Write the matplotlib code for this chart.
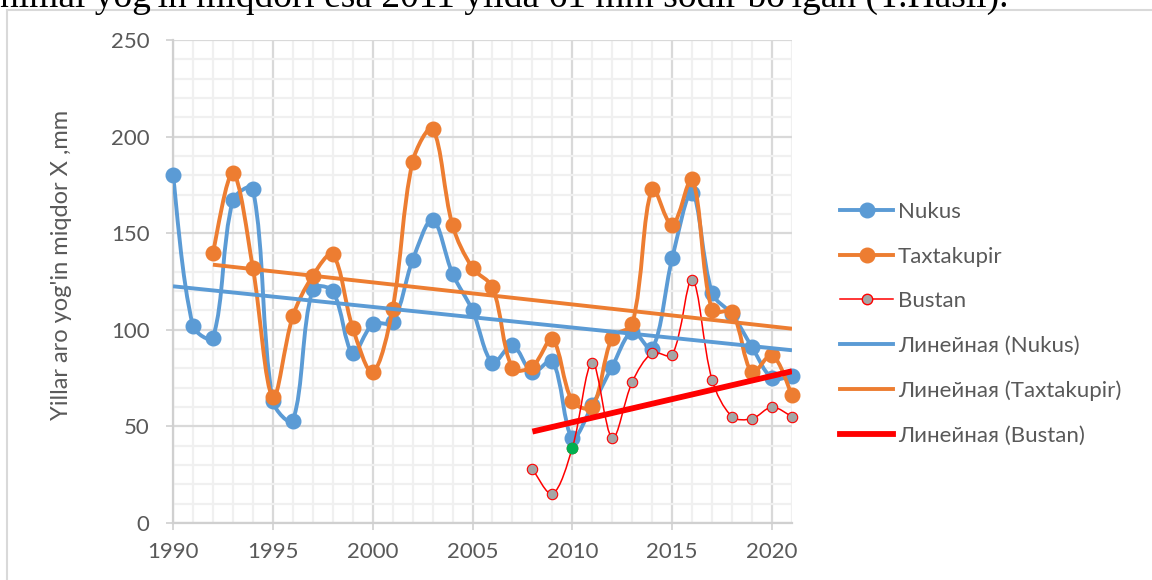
import numpy as np
import matplotlib.pyplot as plt
from matplotlib.path import Path
from matplotlib.patches import PathPatch, Rectangle
from matplotlib.lines import Line2D

years_nukus = np.arange(1990, 2022)
nukus = [180, 102, 96, 167, 173, 63, 53, 121, 120, 88, 103, 104, 136, 157, 129, 110,
         83, 92, 78, 84, 44, 61, 81, 99, 90, 137, 171, 119, 108, 91, 75, 76]
years_taxt = np.arange(1992, 2022)
taxtakupir = [140, 181, 132, 65, 107, 128, 139, 101, 78, 111, 187, 204, 154, 132,
              122, 80, 81, 95, 63, 60, 96, 103, 173, 154, 178, 110, 109, 78, 87, 66]
years_bustan = np.arange(2008, 2022)
bustan = [28, 15, 39, 83, 44, 73, 88, 87, 126, 74, 55, 54, 60, 55]

c_blue = '#5B9BD5'
c_orange = '#ED7D31'
c_red = '#FF0000'
c_text = '#595959'

plt.rcParams['font.family'] = ['Lato', 'DejaVu Sans']

# pixel scale of the axes, used only to make the curve smoothing look like excel's
SX = (792 - 173) / 31.0
SY = (523 - 40) / 250.0


def smooth_path(x, y):
    # smoothed line: cubic bezier, tangent scaled by neighbouring segment lengths
    x = np.asarray(x, float)
    y = np.asarray(y, float)
    n = len(x)
    d = np.hypot(np.diff(x) * SX, np.diff(y) * SY)
    tang = []
    for i in range(n):
        i0 = max(i - 1, 0)
        i1 = min(i + 1, n - 1)
        tang.append((x[i1] - x[i0], y[i1] - y[i0]))
    verts = [(x[0], y[0])]
    codes = [Path.MOVETO]
    for i in range(n - 1):
        f1 = d[i] / (d[i - 1] + d[i]) / 3 if i > 0 else 1 / 6
        f2 = d[i] / (d[i] + d[i + 1]) / 3 if i + 1 < n - 1 else 1 / 6
        c1 = (x[i] + tang[i][0] * f1, y[i] + tang[i][1] * f1)
        c2 = (x[i + 1] - tang[i + 1][0] * f2, y[i + 1] - tang[i + 1][1] * f2)
        verts += [c1, c2, (x[i + 1], y[i + 1])]
        codes += [Path.CURVE4] * 3
    return Path(verts, codes)


fig = plt.figure(figsize=(11.52, 5.80), dpi=100)

# caption fragment from the document page above the chart
fig.text(0.0, 1 - 7 / 580, "nimal yog'in miqdori esa 2011 yilda 61 mm sodir bo'lgan (T.Hasil).",
         fontsize=27, family='Liberation Serif', ha='left', va='baseline', color='black')
fig.patches.append(Rectangle((7 / 1152, -0.1), 1.2, 1 - 10 / 580 + 0.1, transform=fig.transFigure,
                             facecolor='white', edgecolor='#D9D9D9', lw=1.5, zorder=-1))

ax = fig.add_axes([173 / 1152, 1 - 523 / 580, (792 - 173) / 1152, (523 - 40) / 580])
ax.set_xlim(1990, 2021)
ax.set_ylim(0, 250)
ax.set_xticks(np.arange(1990, 2021, 5))
ax.set_xticks(np.arange(1990, 2022, 1), minor=True)
ax.set_yticks(np.arange(0, 251, 50))
ax.set_yticks(np.arange(0, 251, 10), minor=True)
ax.grid(which='major', color='#D9D9D9', lw=1.6)
ax.grid(which='minor', color='#F0F0F0', lw=1.6)
ax.set_axisbelow(True)
for s in ['top', 'right']:
    ax.spines[s].set_visible(False)
for s in ['left', 'bottom']:
    ax.spines[s].set_color('#D0D0D0')
    ax.spines[s].set_linewidth(1.6)
ax.tick_params(which='major', length=5, width=1.2, color='#D0D0D0', labelcolor=c_text,
               labelsize=16)
ax.tick_params(axis='x', pad=9)
ax.tick_params(axis='y', pad=12)
ax.tick_params(which='minor', length=0)
ax.set_ylabel("Yillar aro yog'in miqdor X ,mm", fontsize=17, color=c_text)
ax.yaxis.label.set_verticalalignment('center')
ax.yaxis.set_label_coords((62 - 173) / 619, 1 - (265 - 40) / 483)

# series (smoothed lines + markers)
ax.add_patch(PathPatch(smooth_path(years_nukus, nukus), fill=False, edgecolor=c_blue, lw=2.8, zorder=3))
ax.plot(years_nukus, nukus, 'o', color=c_blue, ms=10.5, zorder=4, clip_on=False)
ax.add_patch(PathPatch(smooth_path(years_taxt, taxtakupir), fill=False, edgecolor=c_orange, lw=2.8, zorder=5))
ax.plot(years_taxt, taxtakupir, 'o', color=c_orange, ms=10.5, zorder=6, clip_on=False)
ax.add_patch(PathPatch(smooth_path(years_bustan, bustan), fill=False, edgecolor=c_red, lw=1.1, zorder=7))
ax.plot(years_bustan, bustan, 'o', mfc='#A5A5A5', mec=c_red, mew=0.8, ms=7.5, zorder=8, clip_on=False)
ax.plot(years_bustan[2], bustan[2], 'o', mfc='#00B050', mec='#00B050', ms=7.5, zorder=9)

# linear trendlines
for xs, ys, col, lw in [(years_nukus, nukus, c_blue, 2.8),
                        (years_taxt, taxtakupir, c_orange, 2.8),
                        (years_bustan, bustan, c_red, 4.2)]:
    k, b = np.polyfit(xs, ys, 1)
    ax.plot([xs[0], xs[-1]], [k * xs[0] + b, k * xs[-1] + b], color=col, lw=lw, zorder=10,
            solid_capstyle='butt')

handles = [
    Line2D([], [], color=c_blue, lw=2.8, marker='o', ms=10.5),
    Line2D([], [], color=c_orange, lw=2.8, marker='o', ms=10.5),
    Line2D([], [], color=c_red, lw=1.1, marker='o', ms=7.5, mfc='#A5A5A5', mec=c_red),
    Line2D([], [], color=c_blue, lw=2.8),
    Line2D([], [], color=c_orange, lw=2.8),
    Line2D([], [], color=c_red, lw=4.2),
]
labels = ['Nukus', 'Taxtakupir', 'Bustan', 'Линейная (Nukus)',
          'Линейная (Taxtakupir)', 'Линейная (Bustan)']
leg = fig.legend(handles, labels, loc='upper left', bbox_to_anchor=(831 / 1152, 1 - 193 / 580),
                 frameon=False, fontsize=16, labelcolor=c_text, handlelength=2.4,
                 handletextpad=0.22, labelspacing=1.11, borderaxespad=0)

fig.savefig('out.png', dpi=100)
